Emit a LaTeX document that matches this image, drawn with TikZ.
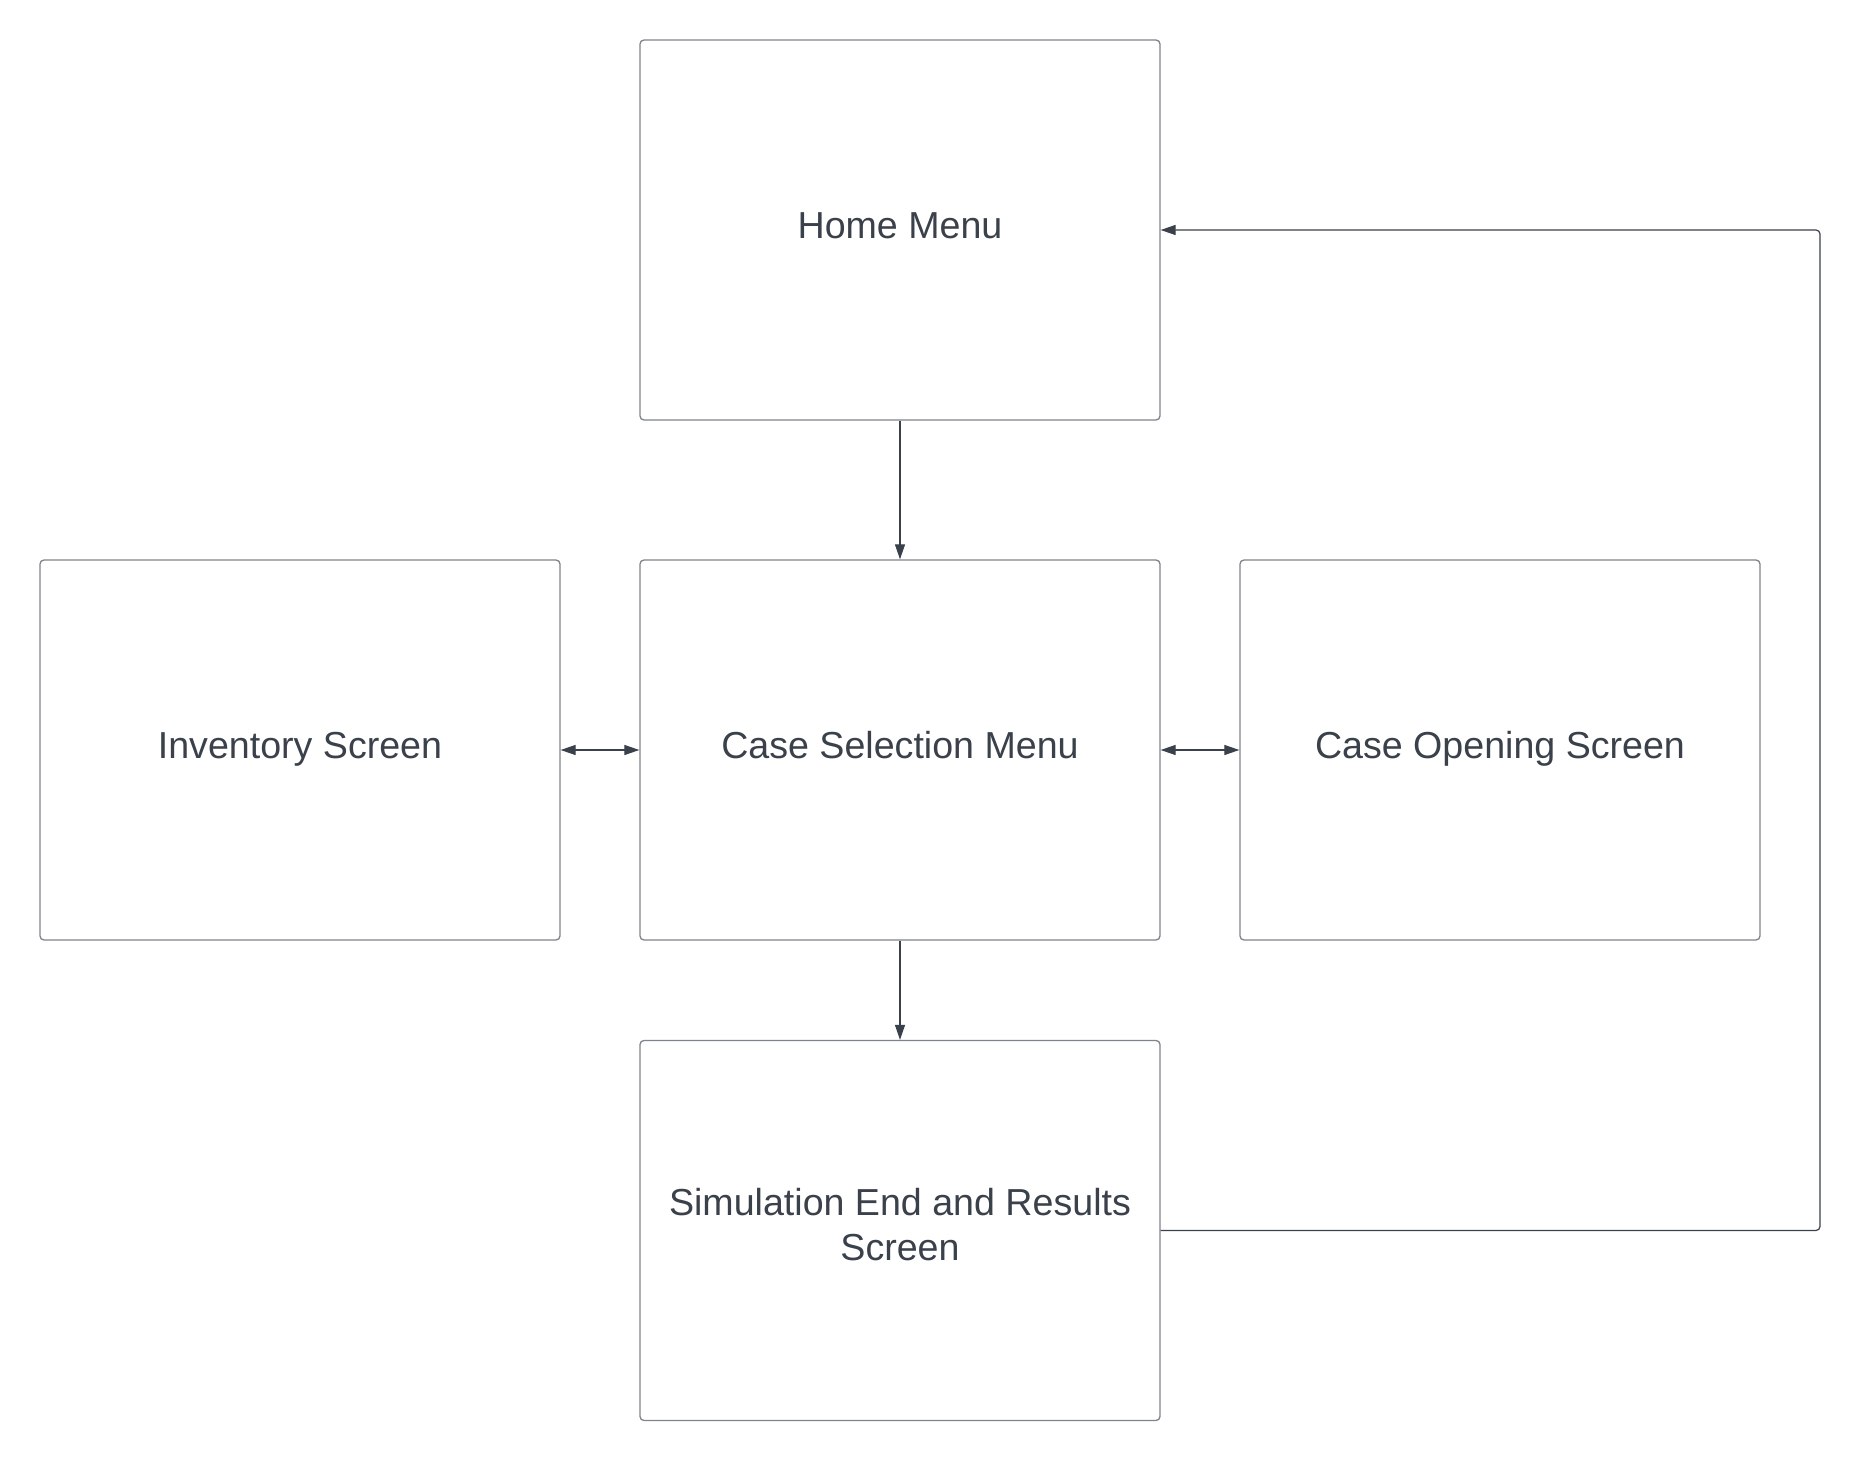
\documentclass[tikz,border=0pt]{standalone}
\usepackage{fontspec}
\setmainfont{Liberation Sans}
\usetikzlibrary{arrows.meta}
\definecolor{txt}{HTML}{3A414A}
\definecolor{bord}{HTML}{7F848B}
\begin{document}
\begin{tikzpicture}[x=0.5pt,y=-0.5pt,
  box/.style={draw=bord, line width=0.65pt, rounded corners=2pt,
    minimum width=260pt, minimum height=190pt, inner sep=0pt},
  boxtext/.style={text=txt, font=\fontsize{18.8pt}{22.5pt}\selectfont,
    inner sep=0pt, text height=13.46pt, text depth=0pt, yshift=2.7pt},
  boxtexttwo/.style={text=txt, font=\fontsize{18.8pt}{22.5pt}\selectfont,
    inner sep=0pt, align=center, yshift=3pt},
  conn/.style={draw=txt, line width=0.6pt, -{Triangle[length=7.5pt,width=5pt]}},
  dconn/.style={draw=txt, line width=0.6pt, {Triangle[length=7.5pt,width=5pt]}-{Triangle[length=7.5pt,width=5pt]}}
]
\fill[white] (0,0) rectangle (1860,1460);
\useasboundingbox (0,0) rectangle (1860,1460);

\node[box, label={[boxtext]center:Home Menu}] (home) at (900,230) {};
\node[box, label={[boxtext]center:Inventory Screen}] (inv) at (300,750) {};
\node[box, label={[boxtext]center:Case Selection Menu}] (sel) at (900,750) {};
\node[box, label={[boxtext]center:Case Opening Screen}] (open) at (1500,750) {};
\node[box, label={[boxtexttwo]center:Simulation End and Results\\Screen}] (sim) at (900,1230.5) {};

\coordinate (corner) at (1820,700);

\draw[conn] (home) -- (sel);
\draw[conn] (sel) -- (sim);
\draw[dconn] (inv) -- (sel);
\draw[dconn] (sel) -- (open);
\draw[conn, rounded corners=2pt] (sim.east) -| (corner) |- (home.east);
\end{tikzpicture}
\end{document}
